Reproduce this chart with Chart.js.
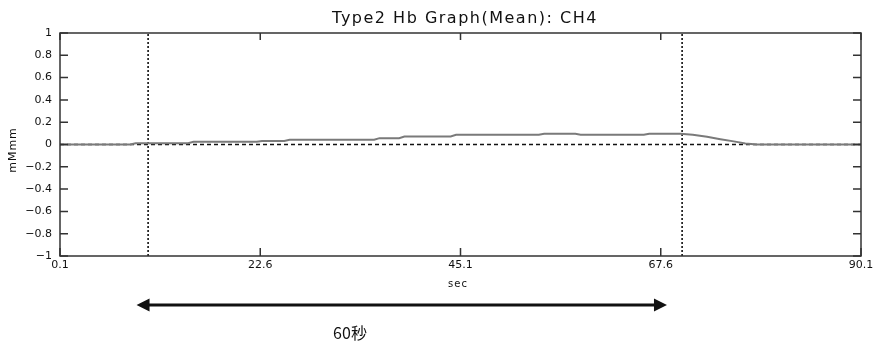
<!DOCTYPE html>
<html>
<head>
<meta charset="utf-8">
<script src="https://cdn.jsdelivr.net/npm/chart.js@4.4.1/dist/chart.umd.min.js"></script>
<style>
    html, body { margin: 0; padding: 0; background: #fff; }
    #wrap { width: 874px; height: 343px; }
</style>
</head>
<body>
<div id="wrap"><canvas id="hbChart" width="874" height="343"></canvas></div>
<script>
// time (sec) and mean Hb value
const timeSec = [0.1, 8.0, 8.6, 14.5, 15.1, 22.2, 22.8, 25.3, 25.9, 35.4, 36.0, 38.2, 38.8, 44.0, 44.6, 53.9, 54.5, 58.0, 58.6, 65.7, 66.3, 69.8, 71.2, 72.8, 74.3, 75.8, 77.1, 78.4, 90.1];
const hbValues = [0.0, 0.0, 0.012, 0.012, 0.025, 0.025, 0.032, 0.032, 0.042, 0.042, 0.057, 0.057, 0.072, 0.072, 0.087, 0.087, 0.096, 0.096, 0.087, 0.087, 0.096, 0.096, 0.088, 0.07, 0.048, 0.028, 0.01, 0.0, 0.0];

const xTicks = [0.1, 22.6, 45.1, 67.6, 90.1];
const yTicks = [-1, -0.8, -0.6, -0.4, -0.2, 0, 0.2, 0.4, 0.6, 0.8, 1];

const markerTimes = [10, 70];       // task start / end
const arrowSpan = [8.7, 68.3];      // the "60秒" bracket under the axis

const FONT = '"DejaVu Sans", sans-serif';

const boxPlugin = {
    id: 'boxPlugin',
    afterDraw(chart) {
        const { ctx, chartArea: a, scales: { x, y } } = chart;
        ctx.save();
        ctx.strokeStyle = '#333';
        ctx.lineWidth = 1.5;
        ctx.strokeRect(a.left, a.top, a.right - a.left, a.bottom - a.top);

        // inward tick marks
        ctx.beginPath();
        yTicks.forEach(v => {
            const py = y.getPixelForValue(v);
            ctx.moveTo(a.left, py); ctx.lineTo(a.left + 8, py);
            ctx.moveTo(a.right, py); ctx.lineTo(a.right - 8, py);
        });
        xTicks.forEach(v => {
            const px = x.getPixelForValue(v);
            ctx.moveTo(px, a.bottom); ctx.lineTo(px, a.bottom - 8);
            ctx.moveTo(px, a.top); ctx.lineTo(px, a.top + 7);
        });
        ctx.stroke();

        // title
        ctx.fillStyle = '#111';
        ctx.textAlign = 'center';
        ctx.textBaseline = 'middle';
        ctx.font = '16px ' + FONT;
        ctx.letterSpacing = '1.5px';
        ctx.fillText('Type2 Hb Graph(Mean): CH4', 465, 19);

        // axis titles
        ctx.font = '10px ' + FONT;
        ctx.letterSpacing = '1px';
        ctx.fillText('sec', 458, 284);
        ctx.save();
        ctx.translate(13, 150);
        ctx.rotate(-Math.PI / 2);
        ctx.font = '11px ' + FONT;
        ctx.fillText('mMmm', 0, 0);
        ctx.restore();
        ctx.letterSpacing = '0px';

        // 60 sec arrow
        const x1 = x.getPixelForValue(arrowSpan[0]);
        const x2 = x.getPixelForValue(arrowSpan[1]);
        const ay = 305;
        ctx.strokeStyle = '#111';
        ctx.fillStyle = '#111';
        ctx.lineWidth = 3;
        ctx.beginPath();
        ctx.moveTo(x1 + 8, ay); ctx.lineTo(x2 - 8, ay);
        ctx.stroke();
        ctx.beginPath();
        ctx.moveTo(x1, ay); ctx.lineTo(x1 + 13, ay - 6.5); ctx.lineTo(x1 + 13, ay + 6.5); ctx.closePath();
        ctx.moveTo(x2, ay); ctx.lineTo(x2 - 13, ay - 6.5); ctx.lineTo(x2 - 13, ay + 6.5); ctx.closePath();
        ctx.fill();

        ctx.font = '16px "Noto Sans CJK JP", sans-serif';
        ctx.fillText('60秒', 350, 333);
        ctx.restore();
    }
};

const datasets = [
    {
        label: 'CH4',
        data: timeSec.map((t, i) => ({ x: t, y: hbValues[i] })),
        borderColor: '#7a7a7a',
        borderWidth: 2,
        pointRadius: 0,
        order: 0
    },
    {
        label: 'zero',
        data: [{ x: xTicks[0], y: 0 }, { x: xTicks[xTicks.length - 1], y: 0 }],
        borderColor: '#111',
        borderWidth: 1.5,
        borderDash: [4, 3],
        pointRadius: 0,
        order: 1
    }
];
markerTimes.forEach(t => {
    datasets.push({
        label: 'mark' + t,
        data: [{ x: t, y: -1 }, { x: t, y: 1 }],
        borderColor: '#111',
        borderWidth: 1.6,
        borderDash: [2, 2],
        pointRadius: 0,
        order: 1
    });
});

const hbCtx = document.getElementById('hbChart').getContext('2d');
const hbChart = new Chart(hbCtx, {
    type: 'line',
    data: { datasets },
    options: {
        responsive: false,
        animation: false,
        events: [],
        layout: { padding: { top: 33, right: 13, left: 0, bottom: 0 } },
        scales: {
            x: {
                type: 'linear',
                min: xTicks[0],
                max: xTicks[xTicks.length - 1],
                afterBuildTicks: s => { s.ticks = xTicks.map(v => ({ value: v })); },
                afterFit: s => { s.height = 87; s.paddingLeft = 0; s.paddingRight = 0; },
                grid: { display: false, drawTicks: false },
                border: { display: false },
                ticks: {
                    padding: 3,
                    maxRotation: 0,
                    autoSkip: false,
                    color: '#111',
                    font: { family: FONT, size: 11 },
                    callback: v => String(v)
                }
            },
            y: {
                min: -1,
                max: 1,
                afterBuildTicks: s => { s.ticks = yTicks.map(v => ({ value: v })); },
                afterFit: s => { s.width = 60; s.paddingTop = 0; s.paddingBottom = 0; },
                grid: { display: false, drawTicks: false },
                border: { display: false },
                ticks: {
                    padding: 8,
                    autoSkip: false,
                    color: '#111',
                    font: { family: FONT, size: 11 },
                    callback: v => (v < 0 ? '\u2212' + Math.abs(v) : String(v))
                }
            }
        },
        plugins: {
            legend: { display: false },
            tooltip: { enabled: false }
        }
    },
    plugins: [boxPlugin]
});
</script>
</body>
</html>
